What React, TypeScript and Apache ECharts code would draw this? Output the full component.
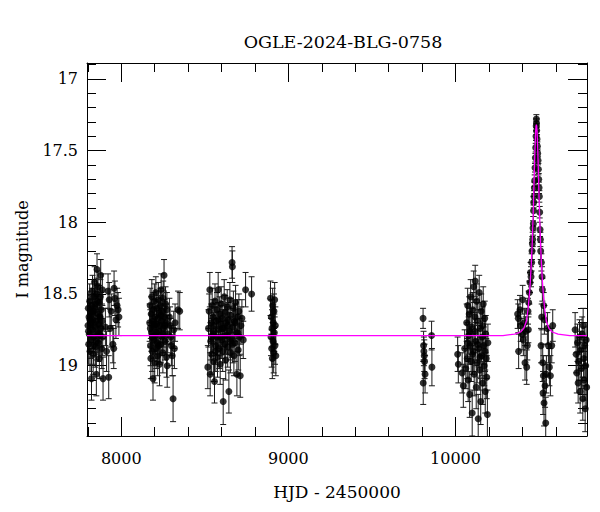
import React, { useEffect, useRef } from "react";
import * as echarts from "echarts";

const TITLE = "OGLE-2024-BLG-0758";
const X_NAME = "HJD - 2450000";
const Y_NAME = "I magnitude";

const X_MIN = 7795;
const X_MAX = 10787;
const Y_MIN = 16.89;
const Y_MAX = 19.49;

const X_LABELS = [8000, 9000, 10000];
const X_MAJOR = [8000, 9000, 10000];
const X_MINOR = [7800, 8200, 8400, 8600, 8800, 9200, 9400, 9600, 9800, 10200, 10400, 10600];
const Y_LABELS = [17, 17.5, 18, 18.5, 19];
const Y_MAJOR = [17, 17.5, 18, 18.5, 19];
const Y_MINOR = [16.9, 17.1, 17.2, 17.3, 17.4, 17.6, 17.7, 17.8, 17.9, 18.1, 18.2, 18.3, 18.4, 18.6, 18.7, 18.8, 18.9, 19.1, 19.2, 19.3, 19.4];

// observations: [HJD-2450000, I mag, error]
const season1 = [
  [7801, 18.72, 0.13], [7803, 18.6, 0.12], [7805, 18.85, 0.14], [7807, 18.66, 0.12], [7809, 18.78, 0.13],
  [7811, 18.55, 0.12], [7813, 18.9, 0.14], [7815, 18.7, 0.12], [7817, 18.63, 0.12], [7819, 18.82, 0.13],
  [7822, 19.09, 0.15], [7824, 18.58, 0.12], [7826, 18.75, 0.13], [7828, 18.48, 0.11], [7830, 18.68, 0.12],
  [7832, 18.92, 0.14], [7834, 18.62, 0.12], [7836, 18.8, 0.13], [7838, 18.52, 0.11], [7841, 18.42, 0.11],
  [7843, 18.73, 0.12], [7845, 18.87, 0.14], [7847, 18.57, 0.12], [7849, 18.69, 0.12], [7851, 19.06, 0.15],
  [7853, 18.5, 0.11], [7855, 18.33, 0.11], [7857, 18.77, 0.13], [7859, 18.64, 0.12], [7861, 18.45, 0.11],
  [7863, 18.84, 0.13], [7865, 18.71, 0.12], [7867, 18.56, 0.12], [7869, 18.95, 0.14], [7871, 18.66, 0.12],
  [7873, 18.79, 0.13], [7875, 18.52, 0.12], [7877, 18.37, 0.11], [7879, 18.74, 0.13], [7881, 18.61, 0.12],
  [7883, 18.88, 0.14], [7885, 18.69, 0.12], [7887, 18.47, 0.11], [7889, 18.8, 0.13], [7891, 19.09, 0.15],
  [7804, 18.76, 0.13], [7812, 18.68, 0.12], [7820, 18.71, 0.13], [7827, 18.64, 0.12], [7835, 18.86, 0.13],
  [7842, 18.6, 0.12], [7850, 18.83, 0.13], [7858, 18.55, 0.12], [7866, 18.78, 0.13], [7874, 18.66, 0.12],
  [7905, 18.73, 0.13], [7912, 18.9, 0.14], [7921, 18.48, 0.12], [7925, 19.08, 0.15], [7928, 18.54, 0.12],
  [7933, 18.74, 0.13], [7940, 18.62, 0.12], [7950, 18.85, 0.13], [7955, 18.88, 0.14], [7957, 18.46, 0.12],
  [7962, 18.53, 0.12], [7968, 18.68, 0.13], [7975, 18.58, 0.12], [7981, 18.61, 0.12], [7986, 18.66, 0.13],
];

const season2 = [
  [8170, 18.7, 0.13], [8173, 18.58, 0.12], [8175, 18.86, 0.14], [8177, 18.95, 0.14], [8179, 18.64, 0.12],
  [8181, 18.77, 0.13], [8183, 18.52, 0.12], [8185, 18.9, 0.14], [8187, 18.69, 0.12], [8190, 19.09, 0.15],
  [8192, 18.61, 0.12], [8194, 18.82, 0.13], [8196, 18.73, 0.13], [8198, 18.55, 0.12], [8200, 18.98, 0.14],
  [8202, 18.66, 0.12], [8205, 18.79, 0.13], [8207, 18.49, 0.11], [8209, 18.88, 0.14], [8211, 18.71, 0.12],
  [8213, 18.6, 0.12], [8216, 18.84, 0.13], [8218, 18.93, 0.14], [8220, 18.67, 0.12], [8222, 18.54, 0.12],
  [8225, 18.76, 0.13], [8227, 18.63, 0.12], [8229, 18.99, 0.15], [8232, 18.72, 0.12], [8234, 18.58, 0.12],
  [8236, 18.85, 0.13], [8239, 18.47, 0.11], [8241, 18.69, 0.12], [8244, 18.8, 0.13], [8246, 18.62, 0.12],
  [8249, 18.91, 0.14], [8251, 18.53, 0.12], [8254, 18.74, 0.13], [8256, 18.37, 0.11], [8259, 18.66, 0.12],
  [8262, 18.83, 0.13], [8265, 18.57, 0.12], [8268, 18.7, 0.13], [8271, 18.94, 0.14], [8273, 18.61, 0.12],
  [8275, 19.0, 0.15], [8278, 18.78, 0.13], [8174, 18.74, 0.13], [8186, 18.8, 0.13], [8199, 18.71, 0.12],
  [8212, 18.77, 0.13], [8224, 18.86, 0.13], [8237, 18.65, 0.12], [8250, 18.78, 0.13], [8263, 18.72, 0.12],
  [8288, 18.66, 0.13], [8292, 18.72, 0.13], [8296, 18.8, 0.13],
  [8300, 18.86, 0.14], [8305, 18.93, 0.14], [8310, 19.23, 0.16], [8314, 18.75, 0.13], [8318, 18.88, 0.14],
  [8322, 18.7, 0.13], [8340, 18.61, 0.13], [8350, 18.62, 0.13],
];

const season3 = [
  [8518, 19.01, 0.15], [8522, 18.74, 0.13], [8526, 18.62, 0.12], [8530, 18.47, 0.12], [8532, 19.06, 0.15],
  [8535, 18.83, 0.13], [8538, 18.7, 0.13], [8541, 18.92, 0.14], [8544, 18.58, 0.12], [8547, 18.78, 0.13],
  [8550, 18.66, 0.12], [8553, 18.97, 0.14], [8556, 18.72, 0.13], [8558, 19.11, 0.15], [8561, 18.55, 0.12],
  [8564, 18.86, 0.13], [8567, 18.69, 0.12], [8570, 18.8, 0.13], [8573, 18.61, 0.12], [8576, 18.94, 0.14],
  [8580, 18.47, 0.12], [8583, 18.75, 0.13], [8586, 18.88, 0.14], [8589, 18.64, 0.12], [8592, 18.99, 0.14],
  [8595, 18.71, 0.13], [8598, 18.57, 0.12], [8601, 18.82, 0.13], [8604, 18.67, 0.12], [8607, 18.9, 0.14],
  [8610, 19.25, 0.16], [8613, 18.74, 0.13], [8616, 18.52, 0.12], [8619, 18.85, 0.13], [8622, 18.63, 0.12],
  [8625, 18.96, 0.14], [8628, 18.7, 0.13], [8631, 18.79, 0.13], [8634, 18.59, 0.12], [8637, 18.87, 0.14],
  [8640, 18.68, 0.12], [8644, 19.18, 0.15], [8647, 18.76, 0.13], [8650, 18.54, 0.12], [8653, 18.91, 0.14],
  [8656, 18.65, 0.12], [8659, 18.81, 0.13], [8663, 18.28, 0.11], [8665, 18.31, 0.11], [8668, 18.73, 0.13],
  [8671, 18.6, 0.12], [8674, 18.93, 0.14], [8677, 18.69, 0.12], [8680, 18.84, 0.13], [8684, 18.56, 0.12],
  [8688, 18.77, 0.13], [8692, 19.06, 0.15], [8696, 18.66, 0.12], [8700, 18.89, 0.14], [8704, 18.62, 0.12],
  [8708, 18.8, 0.13], [8712, 19.07, 0.15], [8716, 18.72, 0.13], [8722, 18.67, 0.13], [8730, 18.82, 0.13],
  [8540, 18.8, 0.13], [8552, 18.76, 0.13], [8566, 18.9, 0.14], [8579, 18.68, 0.12], [8594, 18.8, 0.13],
  [8606, 18.74, 0.13], [8621, 18.79, 0.13], [8636, 18.72, 0.13], [8652, 18.83, 0.13], [8667, 18.85, 0.13],
  [8682, 18.7, 0.13], [8698, 18.77, 0.13],
  [8744, 18.47, 0.12], [8780, 18.5, 0.12],
];

const season4 = [
  [8893, 18.53, 0.12], [8896, 18.8, 0.13], [8898, 18.66, 0.12], [8900, 18.88, 0.13], [8902, 18.74, 0.13],
  [8904, 18.95, 0.14], [8906, 18.58, 0.12], [8908, 18.83, 0.13], [8910, 18.7, 0.13], [8912, 18.91, 0.14],
  [8914, 18.62, 0.12], [8916, 18.77, 0.13], [8918, 18.54, 0.12], [8920, 18.86, 0.13], [8922, 18.72, 0.13],
  [8925, 18.93, 0.14],
];

const season5 = [
  [9806, 18.67, 0.07], [9809, 18.86, 0.1], [9811, 18.9, 0.1], [9813, 18.93, 0.11], [9815, 18.97, 0.12],
  [9818, 19.06, 0.13], [9807, 19.12, 0.15], [9857, 18.79, 0.1], [9859, 19.01, 0.13],
];

const season6 = [
  [10013, 18.92, 0.12], [10017, 18.99, 0.13], [10040, 19.05, 0.14], [10047, 19.14, 0.15], [10055, 18.88, 0.13],
  [10062, 19.02, 0.14], [10067, 18.7, 0.13], [10070, 18.95, 0.14], [10073, 18.58, 0.12], [10076, 19.1, 0.15],
  [10079, 18.79, 0.13], [10082, 18.64, 0.12], [10085, 19.2, 0.16], [10088, 18.86, 0.13], [10091, 18.52, 0.12],
  [10094, 18.97, 0.14], [10097, 18.73, 0.13], [10100, 19.33, 0.16], [10103, 18.61, 0.12], [10106, 18.9, 0.14],
  [10109, 18.45, 0.11], [10112, 19.06, 0.15], [10115, 18.76, 0.13], [10118, 18.41, 0.11], [10121, 18.83, 0.13],
  [10124, 19.15, 0.15], [10127, 18.55, 0.12], [10130, 18.98, 0.14], [10133, 18.69, 0.13], [10136, 19.37, 0.17],
  [10139, 18.88, 0.13], [10142, 18.49, 0.12], [10145, 19.03, 0.14], [10148, 18.74, 0.13], [10151, 19.25, 0.16],
  [10154, 18.62, 0.12], [10157, 18.93, 0.14], [10160, 18.8, 0.13], [10163, 19.12, 0.15], [10166, 18.57, 0.12],
  [10169, 18.86, 0.13], [10172, 19.0, 0.14], [10175, 18.67, 0.12], [10178, 19.18, 0.15], [10181, 18.78, 0.13],
  [10184, 18.95, 0.14], [10187, 19.08, 0.15], [10191, 19.34, 0.17], [10194, 18.84, 0.13],
  [10072, 18.84, 0.13], [10087, 18.76, 0.13], [10102, 18.92, 0.14], [10117, 18.66, 0.12], [10132, 18.85, 0.13],
  [10147, 18.94, 0.14], [10162, 18.72, 0.13], [10177, 18.9, 0.14],
];

const season7 = [
  [10372, 18.64, 0.1], [10376, 18.67, 0.1], [10378, 18.9, 0.12], [10386, 18.61, 0.1], [10390, 18.72, 0.11],
  [10398, 18.78, 0.11], [10402, 18.54, 0.1], [10406, 18.82, 0.11], [10412, 18.7, 0.1], [10416, 18.98, 0.12],
  [10420, 18.76, 0.1], [10426, 19.01, 0.12], [10430, 18.86, 0.1], [10434, 18.62, 0.09], [10436, 18.75, 0.09],
  [10438, 18.56, 0.08], [10442, 18.49, 0.08], [10446, 18.42, 0.07], [10449, 18.35, 0.07], [10452, 18.38, 0.07],
  [10456, 18.28, 0.06], [10458, 18.2, 0.06], [10460, 18.15, 0.05], [10462, 18.12, 0.05], [10464, 18.04, 0.05],
  [10466, 18.01, 0.05], [10467, 17.92, 0.04], [10468, 17.86, 0.04], [10470, 17.82, 0.04], [10472, 17.76, 0.04],
  [10474, 17.71, 0.04], [10476, 17.62, 0.03], [10478, 17.55, 0.03], [10480, 17.48, 0.03], [10482, 17.4, 0.03],
  [10483, 17.33, 0.03], [10484, 17.28, 0.03], [10485, 17.31, 0.03], [10486, 17.36, 0.03], [10488, 17.42, 0.03],
  [10490, 17.47, 0.03], [10492, 17.52, 0.03], [10494, 17.57, 0.03], [10496, 17.63, 0.04], [10498, 17.7, 0.04],
  [10500, 17.76, 0.04], [10502, 17.82, 0.04], [10504, 17.93, 0.04], [10506, 18.05, 0.05], [10508, 18.12, 0.05],
  [10510, 18.2, 0.06], [10512, 18.86, 0.12], [10514, 18.28, 0.06], [10516, 18.66, 0.09], [10518, 18.38, 0.07],
  [10520, 18.47, 0.08], [10522, 18.98, 0.13], [10524, 19.19, 0.15], [10526, 19.07, 0.14], [10528, 18.58, 0.09],
  [10530, 19.26, 0.16], [10532, 18.68, 0.1], [10536, 19.14, 0.15], [10540, 19.4, 0.18], [10544, 19.06, 0.13],
  [10550, 18.74, 0.11], [10556, 18.86, 0.12], [10562, 19.01, 0.13], [10568, 19.07, 0.14], [10576, 18.86, 0.12],
  [10582, 18.72, 0.11],
];

const season8 = [
  [10716, 18.75, 0.12], [10722, 18.92, 0.13], [10726, 19.05, 0.14], [10730, 18.84, 0.13], [10734, 19.12, 0.14],
  [10738, 18.97, 0.13], [10742, 18.8, 0.12], [10746, 19.18, 0.15], [10750, 18.89, 0.13], [10754, 19.02, 0.14],
  [10758, 18.78, 0.12], [10762, 19.23, 0.15], [10764, 18.72, 0.12], [10767, 18.95, 0.13], [10770, 19.1, 0.14],
  [10773, 18.86, 0.13], [10776, 19.3, 0.16], [10779, 19.0, 0.14], [10782, 18.82, 0.12], [10785, 19.15, 0.15],
];

// model curve
const modelT = [7795, 10284, 10354, 10389, 10409, 10424, 10434, 10442, 10448, 10454, 10459, 10464, 10468, 10472, 10476, 10480, 10482, 10484, 10486, 10488, 10492, 10496, 10500, 10504, 10509, 10514, 10520, 10526, 10534, 10544, 10559, 10579, 10614, 10684, 10787];
const modelM = [18.79, 18.79, 18.78, 18.765, 18.74, 18.69, 18.61, 18.51, 18.41, 18.28, 18.15, 17.98, 17.82, 17.64, 17.48, 17.36, 17.33, 17.32, 17.33, 17.36, 17.48, 17.64, 17.82, 17.98, 18.15, 18.28, 18.41, 18.51, 18.61, 18.69, 18.74, 18.765, 18.78, 18.79, 18.79];

const FONT = "DejaVu Serif";

export default function App() {
  const ref = useRef<HTMLDivElement>(null);
  useEffect(() => {
    if (!ref.current) return;
    const chart = echarts.init(ref.current, undefined, { renderer: "svg" });
    const obs = [...season1, ...season2, ...season3, ...season4, ...season5, ...season6, ...season7, ...season8];
    const model = modelT.map((t, i) => [t, modelM[i]]);
    const lineStyle = { color: "#000", width: 1 };
    const baseX = { type: "value", min: X_MIN, max: X_MAX, splitLine: { show: false }, gridIndex: 0 };
    const baseY = { type: "value", min: Y_MIN, max: Y_MAX, inverse: true, splitLine: { show: false }, gridIndex: 0 };
    const labelStyle = { fontFamily: FONT, fontSize: 16, color: "#000" };
    const option: any = {
      animation: false,
      backgroundColor: "#fff",
      title: {
        text: TITLE,
        left: 338,
        top: 28,
        textAlign: "center",
        textStyle: { fontFamily: FONT, fontSize: 17.5, fontWeight: "normal", color: "#000" },
      },
      grid: { left: 87, right: 13, top: 63, bottom: 76, containLabel: false },
      xAxis: [
        {
          ...baseX,
          position: "bottom",
          axisLine: { show: true, onZero: false, lineStyle },
          axisTick: { show: true, inside: true, length: 19, customValues: X_MAJOR, lineStyle },
          axisLabel: { show: true, customValues: X_LABELS, margin: 14, formatter: (v: number) => String(v), ...labelStyle },
          name: X_NAME,
          nameLocation: "middle",
          nameGap: 47,
          nameTextStyle: { ...labelStyle, fontSize: 17 },
        },
        {
          ...baseX,
          position: "bottom",
          axisLine: { show: false },
          axisTick: { show: true, inside: true, length: 9, customValues: X_MINOR, lineStyle },
          axisLabel: { show: false },
        },
        {
          ...baseX,
          position: "top",
          axisLine: { show: true, onZero: false, lineStyle },
          axisTick: { show: true, inside: true, length: 19, customValues: X_MAJOR, lineStyle },
          axisLabel: { show: false },
        },
        {
          ...baseX,
          position: "top",
          axisLine: { show: false },
          axisTick: { show: true, inside: true, length: 9, customValues: X_MINOR, lineStyle },
          axisLabel: { show: false },
        },
      ],
      yAxis: [
        {
          ...baseY,
          position: "left",
          axisLine: { show: true, onZero: false, lineStyle },
          axisTick: { show: true, inside: true, length: 19, customValues: Y_MAJOR, lineStyle },
          axisLabel: { show: true, customValues: Y_LABELS, margin: 9, formatter: (v: number) => String(v), ...labelStyle },
          name: Y_NAME,
          nameLocation: "middle",
          nameGap: 57,
          nameTextStyle: { ...labelStyle },
        },
        {
          ...baseY,
          position: "left",
          axisLine: { show: false },
          axisTick: { show: true, inside: true, length: 9, customValues: Y_MINOR, lineStyle },
          axisLabel: { show: false },
        },
        {
          ...baseY,
          position: "right",
          axisLine: { show: true, onZero: false, lineStyle },
          axisTick: { show: true, inside: true, length: 19, customValues: Y_MAJOR, lineStyle },
          axisLabel: { show: false },
        },
        {
          ...baseY,
          position: "right",
          axisLine: { show: false },
          axisTick: { show: true, inside: true, length: 9, customValues: Y_MINOR, lineStyle },
          axisLabel: { show: false },
        },
      ],
      series: [
        {
          type: "custom",
          xAxisIndex: 0,
          yAxisIndex: 0,
          clip: true,
          data: obs,
          encode: { x: 0, y: 1 },
          z: 1,
          renderItem: (params: any, api: any) => {
            const t = api.value(0);
            const m = api.value(1);
            const e = api.value(2);
            const a = api.coord([t, m - e]);
            const b = api.coord([t, m + e]);
            const hw = 3;
            const st = { stroke: "#1a1a1a", lineWidth: 1 };
            return {
              type: "group",
              children: [
                { type: "line", shape: { x1: a[0], y1: a[1], x2: b[0], y2: b[1] }, style: st },
                { type: "line", shape: { x1: a[0] - hw, y1: a[1], x2: a[0] + hw, y2: a[1] }, style: st },
                { type: "line", shape: { x1: b[0] - hw, y1: b[1], x2: b[0] + hw, y2: b[1] }, style: st },
              ],
            };
          },
        },
        {
          type: "scatter",
          xAxisIndex: 0,
          yAxisIndex: 0,
          data: obs.map((d) => [d[0], d[1]]),
          symbol: "circle",
          symbolSize: 7,
          itemStyle: { color: "#000" },
          z: 2,
          clip: true,
        },
        {
          type: "line",
          xAxisIndex: 0,
          yAxisIndex: 0,
          data: model,
          showSymbol: false,
          symbol: "none",
          lineStyle: { color: "#ff00ff", width: 1.3 },
          z: 3,
          clip: true,
        },
      ],
    };
    chart.setOption(option);
    return () => chart.dispose();
  }, []);
  return (
    <div
      ref={ref}
      style={{ position: "absolute", left: 0, top: 0, width: 600, height: 512, background: "#fff" }}
    />
  );
}
